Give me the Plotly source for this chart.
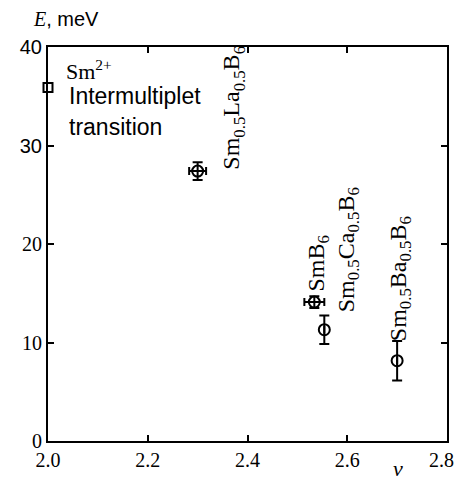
import plotly.graph_objects as go

# Energy of the excitation vs. samarium valence
compounds = ["Sm<sub>0.5</sub>La<sub>0.5</sub>B<sub>6</sub>", "SmB<sub>6</sub>",
             "Sm<sub>0.5</sub>Ca<sub>0.5</sub>B<sub>6</sub>", "Sm<sub>0.5</sub>Ba<sub>0.5</sub>B<sub>6</sub>"]
valence = [2.30, 2.534, 2.554, 2.70]
energy = [27.4, 14.1, 11.3, 8.15]
energy_err = [0.9, 0.6, 1.45, 2.0]
valence_err = [0.017, 0.02, 0.0, 0.0]

# Sm2+ intermultiplet transition reference level
sm2_valence = [2.0]
sm2_energy = [35.9]

x_ticks = [2.0, 2.2, 2.4, 2.6, 2.8]
x_ticktext = ["2.0", "2.2", "2.4", "2.6", "2.8"]
y_ticks = [0, 10, 20, 30, 40]
y_ticktext = ["0", "10", "20",
              "<span style='font-family:Liberation Sans'>30</span>",
              "<span style='font-family:Liberation Sans'>40</span>"]

SERIF = "Liberation Serif"
SANS = "Liberation Sans"

fig = go.Figure()

fig.add_trace(go.Scatter(
    x=valence, y=energy, mode="markers",
    marker=dict(symbol="circle-open", size=11, color="black", line=dict(width=2, color="black")),
    error_y=dict(type="data", array=energy_err, color="black", thickness=2, width=5),
    error_x=dict(type="data", array=valence_err, color="black", thickness=2, width=4),
    cliponaxis=False, showlegend=False, hoverinfo="skip"))

fig.add_trace(go.Scatter(
    x=sm2_valence, y=sm2_energy, mode="markers",
    marker=dict(symbol="square-open", size=9, color="black", line=dict(width=2, color="black")),
    cliponaxis=False, showlegend=False, hoverinfo="skip"))

# Rotated compound labels: lower-left corner of each label box
label_pos = [(2.338, 27.3), (2.508, 15.0), (2.569, 12.9), (2.672, 9.9)]
for name, (lx, ly) in zip(compounds, label_pos):
    fig.add_annotation(x=lx, y=ly, xref="x", yref="y", text=name, textangle=-90,
                       showarrow=False, xanchor="left", yanchor="bottom",
                       font=dict(family=SERIF, size=24, color="black"))

# Sm2+ level description
fig.add_annotation(x=2.033, y=37.7, xref="x", yref="y", text="Sm<sup>2+</sup>",
                   showarrow=False, xanchor="left", yanchor="middle",
                   font=dict(family=SERIF, size=22, color="black"))
fig.add_annotation(x=2.038, y=35.0, xref="x", yref="y", text="Intermultiplet",
                   showarrow=False, xanchor="left", yanchor="middle",
                   font=dict(family=SANS, size=23, color="black"))
fig.add_annotation(x=2.038, y=31.9, xref="x", yref="y", text="transition",
                   showarrow=False, xanchor="left", yanchor="middle",
                   font=dict(family=SANS, size=23, color="black"))

# Axis titles
fig.add_annotation(x=-0.042, y=1.071, xref="paper", yref="paper",
                   text=f"<i><span style='font-family:{SERIF}'>E</span></i>, meV",
                   showarrow=False, xanchor="left", yanchor="middle",
                   font=dict(family=SANS, size=20, color="black"))
fig.add_annotation(x=2.702, y=-0.071, xref="x", yref="paper", text="<i>v</i>",
                   showarrow=False, xanchor="center", yanchor="middle",
                   font=dict(family=SERIF, size=22, color="black"))

# Last x tick label is pulled inward so it stays inside the figure edge
fig.add_annotation(x=x_ticks[-1], y=-0.048, xref="x", yref="paper", text=x_ticktext[-1],
                   showarrow=False, xanchor="right", yanchor="middle", xshift=9,
                   font=dict(family=SERIF, size=20, color="black"))
axis_x_text = x_ticktext[:-1] + [""]

axis_common = dict(showline=True, linecolor="black", linewidth=2, mirror="ticks",
                   ticks="inside", ticklen=6, tickwidth=2, tickcolor="black",
                   showgrid=False, zeroline=False, ticklabeloverflow="allow",
                   automargin=False,
                   tickfont=dict(family=SERIF, size=20, color="black"))

fig.update_xaxes(range=[2.0, 2.8], tickvals=x_ticks, ticktext=axis_x_text, **axis_common)
fig.update_yaxes(range=[0, 40], tickvals=y_ticks, ticktext=y_ticktext, **axis_common)

fig.update_layout(width=458, height=480, margin=dict(l=48, r=11, t=47, b=39),
                  paper_bgcolor="white", plot_bgcolor="white")

fig.write_html("out.html")
